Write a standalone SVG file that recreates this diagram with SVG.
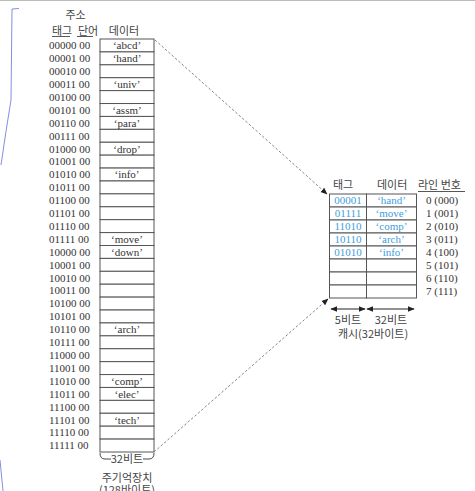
<svg xmlns="http://www.w3.org/2000/svg" width="475" height="491" viewBox="0 0 475 491">
<style>
.addr{font-family:"Liberation Serif",serif;font-size:11px;fill:#333}
.dat{font-family:"Liberation Serif",serif;font-size:11px;fill:#333;text-anchor:middle}
.blue{font-family:"Liberation Serif",serif;font-size:11px;fill:#3f9edb;text-anchor:middle}
.ko{font-family:"Noto Sans CJK KR",sans-serif;font-size:11px;fill:#444}
.kom{font-family:"Noto Sans CJK KR",sans-serif;font-size:11px;fill:#444;text-anchor:middle}
.cell{fill:#fff;stroke:#555;stroke-width:1}
.ul{stroke:#444;stroke-width:0.9}
.dash{fill:none;stroke:#777;stroke-width:0.9;stroke-dasharray:2.5 2}
.dim{stroke:#222;stroke-width:1}
</style>
<defs>
<marker id="ah" viewBox="0 0 10 10" refX="9" refY="5" markerWidth="7" markerHeight="7" orient="auto-start-reverse" markerUnits="userSpaceOnUse">
<path d="M0,1 L10,5 L0,9 Z" fill="#222"/>
</marker>
</defs>
<rect width="475" height="491" fill="#fff"/>
<line x1="0" y1="0.5" x2="475" y2="0.5" stroke="#bbb" stroke-width="1"/>
<path d="M19,8.5 L12,9 L11,100 Q6,130 1,165" fill="none" stroke="#6670d8" stroke-width="0.8"/>
<path d="M0,460 L3,491" fill="none" stroke="#6670d8" stroke-width="0.8"/>

<g id="memory">
<text class="kom" x="75.5" y="19">주소</text>
<text class="ko" x="52" y="35">태그</text>
<text class="ko" x="78" y="35">단어</text>
<line class="ul" x1="52" y1="36.5" x2="70" y2="36.5"/>
<line class="ul" x1="77" y1="36.5" x2="93" y2="36.5"/>
<text class="kom" x="124" y="35">데이터</text>
<g id="mem-cells">
<rect class="cell" x="100" y="39" width="54" height="12.91"/>
<rect class="cell" x="100" y="51.91" width="54" height="12.9"/>
<rect class="cell" x="100" y="64.81" width="54" height="12.91"/>
<rect class="cell" x="100" y="77.72" width="54" height="12.9"/>
<rect class="cell" x="100" y="90.62" width="54" height="12.91"/>
<rect class="cell" x="100" y="103.53" width="54" height="12.91"/>
<rect class="cell" x="100" y="116.44" width="54" height="12.9"/>
<rect class="cell" x="100" y="129.34" width="54" height="12.91"/>
<rect class="cell" x="100" y="142.25" width="54" height="12.9"/>
<rect class="cell" x="100" y="155.15" width="54" height="12.91"/>
<rect class="cell" x="100" y="168.06" width="54" height="12.91"/>
<rect class="cell" x="100" y="180.97" width="54" height="12.9"/>
<rect class="cell" x="100" y="193.87" width="54" height="12.91"/>
<rect class="cell" x="100" y="206.78" width="54" height="12.9"/>
<rect class="cell" x="100" y="219.68" width="54" height="12.91"/>
<rect class="cell" x="100" y="232.59" width="54" height="12.91"/>
<rect class="cell" x="100" y="245.5" width="54" height="12.9"/>
<rect class="cell" x="100" y="258.4" width="54" height="12.91"/>
<rect class="cell" x="100" y="271.31" width="54" height="12.9"/>
<rect class="cell" x="100" y="284.21" width="54" height="12.91"/>
<rect class="cell" x="100" y="297.12" width="54" height="12.91"/>
<rect class="cell" x="100" y="310.03" width="54" height="12.9"/>
<rect class="cell" x="100" y="322.93" width="54" height="12.91"/>
<rect class="cell" x="100" y="335.84" width="54" height="12.9"/>
<rect class="cell" x="100" y="348.74" width="54" height="12.91"/>
<rect class="cell" x="100" y="361.65" width="54" height="12.91"/>
<rect class="cell" x="100" y="374.56" width="54" height="12.9"/>
<rect class="cell" x="100" y="387.46" width="54" height="12.91"/>
<rect class="cell" x="100" y="400.37" width="54" height="12.9"/>
<rect class="cell" x="100" y="413.27" width="54" height="12.91"/>
<rect class="cell" x="100" y="426.18" width="54" height="12.91"/>
<rect class="cell" x="100" y="439.09" width="54" height="12.91"/>
</g>
<g id="mem-addr">
<text class="addr" x="49" y="49.25">00000 00</text>
<text class="addr" x="49" y="62.16">00001 00</text>
<text class="addr" x="49" y="75.06">00010 00</text>
<text class="addr" x="49" y="87.97">00011 00</text>
<text class="addr" x="49" y="100.87">00100 00</text>
<text class="addr" x="49" y="113.78">00101 00</text>
<text class="addr" x="49" y="126.69">00110 00</text>
<text class="addr" x="49" y="139.59">00111 00</text>
<text class="addr" x="49" y="152.5">01000 00</text>
<text class="addr" x="49" y="165.4">01001 00</text>
<text class="addr" x="49" y="178.31">01010 00</text>
<text class="addr" x="49" y="191.22">01011 00</text>
<text class="addr" x="49" y="204.12">01100 00</text>
<text class="addr" x="49" y="217.03">01101 00</text>
<text class="addr" x="49" y="229.93">01110 00</text>
<text class="addr" x="49" y="242.84">01111 00</text>
<text class="addr" x="49" y="255.75">10000 00</text>
<text class="addr" x="49" y="268.65">10001 00</text>
<text class="addr" x="49" y="281.56">10010 00</text>
<text class="addr" x="49" y="294.46">10011 00</text>
<text class="addr" x="49" y="307.37">10100 00</text>
<text class="addr" x="49" y="320.28">10101 00</text>
<text class="addr" x="49" y="333.18">10110 00</text>
<text class="addr" x="49" y="346.09">10111 00</text>
<text class="addr" x="49" y="358.99">11000 00</text>
<text class="addr" x="49" y="371.9">11001 00</text>
<text class="addr" x="49" y="384.81">11010 00</text>
<text class="addr" x="49" y="397.71">11011 00</text>
<text class="addr" x="49" y="410.62">11100 00</text>
<text class="addr" x="49" y="423.52">11101 00</text>
<text class="addr" x="49" y="436.43">11110 00</text>
<text class="addr" x="49" y="449.34">11111 00</text>
</g>
<g id="mem-data">
<text class="dat" x="127" y="49.25">‘abcd’</text>
<text class="dat" x="127" y="62.16">‘hand’</text>
<text class="dat" x="127" y="87.97">‘univ’</text>
<text class="dat" x="127" y="113.78">‘assm’</text>
<text class="dat" x="127" y="126.69">‘para’</text>
<text class="dat" x="127" y="152.5">‘drop’</text>
<text class="dat" x="127" y="178.31">‘info’</text>
<text class="dat" x="127" y="242.84">‘move’</text>
<text class="dat" x="127" y="255.75">‘down’</text>
<text class="dat" x="127" y="333.18">‘arch’</text>
<text class="dat" x="127" y="384.81">‘comp’</text>
<text class="dat" x="127" y="397.71">‘elec’</text>
<text class="dat" x="127" y="423.52">‘tech’</text>
</g>
<path d="M100,453 Q100,459 105,459 L111,459 M143,459 L149,459 Q154,459 154,453" fill="none" stroke="#333" stroke-width="0.9"/>
<text class="kom" x="127" y="462.5">32비트</text>
<text class="kom" x="127" y="481.5">주기억장치</text>
<text class="kom" x="127" y="494">(128바이트)</text>
</g>

<g id="cache">
<text class="ko" x="333" y="189">태그</text>
<text class="ko" x="377" y="189">데이터</text>
<text class="ko" x="418" y="189">라인 번호</text>
<line class="ul" x1="418" y1="191.5" x2="465" y2="191.5"/>
<g id="cache-cells">
<rect class="cell" x="329.5" y="194" width="37" height="13"/><rect class="cell" x="366.5" y="194" width="50" height="13"/>
<rect class="cell" x="329.5" y="207" width="37" height="13"/><rect class="cell" x="366.5" y="207" width="50" height="13"/>
<rect class="cell" x="329.5" y="220" width="37" height="13"/><rect class="cell" x="366.5" y="220" width="50" height="13"/>
<rect class="cell" x="329.5" y="233" width="37" height="13"/><rect class="cell" x="366.5" y="233" width="50" height="13"/>
<rect class="cell" x="329.5" y="246" width="37" height="13"/><rect class="cell" x="366.5" y="246" width="50" height="13"/>
<rect class="cell" x="329.5" y="259" width="37" height="13"/><rect class="cell" x="366.5" y="259" width="50" height="13"/>
<rect class="cell" x="329.5" y="272" width="37" height="13"/><rect class="cell" x="366.5" y="272" width="50" height="13"/>
<rect class="cell" x="329.5" y="285" width="37" height="13"/><rect class="cell" x="366.5" y="285" width="50" height="13"/>
</g>
<g id="cache-data">
<text class="blue" x="348" y="204.3">00001</text><text class="blue" x="391.5" y="204.3">‘hand’</text>
<text class="blue" x="348" y="217.3">01111</text><text class="blue" x="391.5" y="217.3">‘move’</text>
<text class="blue" x="348" y="230.3">11010</text><text class="blue" x="391.5" y="230.3">‘comp’</text>
<text class="blue" x="348" y="243.3">10110</text><text class="blue" x="391.5" y="243.3">‘arch’</text>
<text class="blue" x="348" y="256.3">01010</text><text class="blue" x="391.5" y="256.3">‘info’</text>
</g>
<g id="line-numbers">
<text class="addr" x="426" y="204.3">0 (000)</text>
<text class="addr" x="426" y="217.3">1 (001)</text>
<text class="addr" x="426" y="230.3">2 (010)</text>
<text class="addr" x="426" y="243.3">3 (011)</text>
<text class="addr" x="426" y="256.3">4 (100)</text>
<text class="addr" x="426" y="269.3">5 (101)</text>
<text class="addr" x="426" y="282.3">6 (110)</text>
<text class="addr" x="426" y="295.3">7 (111)</text>
</g>
<line class="dim" x1="331" y1="309" x2="365" y2="309" marker-start="url(#ah)" marker-end="url(#ah)"/>
<line class="dim" x1="367" y1="309" x2="414" y2="309" marker-start="url(#ah)" marker-end="url(#ah)"/>
<text class="kom" x="348" y="324">5비트</text>
<text class="kom" x="391" y="324">32비트</text>
<text class="kom" x="373" y="338">캐시(32바이트)</text>
</g>

<g id="connectors">
<line class="dash" x1="155" y1="40" x2="327" y2="194" marker-end="url(#ah)"/>
<line class="dash" x1="154" y1="452" x2="328" y2="299" marker-end="url(#ah)"/>
</g>
</svg>
